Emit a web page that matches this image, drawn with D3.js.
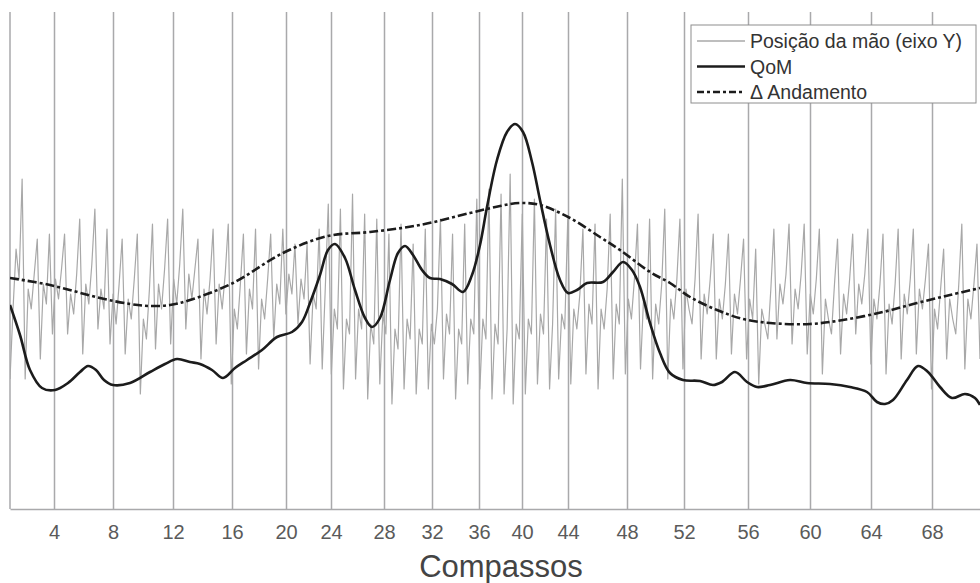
<!DOCTYPE html>
<html>
<head>
<meta charset="utf-8">
<script src="https://cdn.jsdelivr.net/npm/d3@7"></script>
<style>
  body { margin: 0; background: #ffffff; }
  svg { display: block; font-family: "Liberation Sans", Arial, sans-serif; }
</style>
</head>
<body>
<svg id="chart" width="980" height="583"></svg>
<script>

// bar lines (compassos) : time in seconds where each labelled bar starts
var barTimes  = [8.8, 20.6, 32.6, 44.4, 55.2, 64.2, 74.8, 84.4, 93.8, 102.4, 111.6, 123.4, 134.8, 147.6, 160, 172.2, 184.4];
var barLabels = [4, 8, 12, 16, 20, 24, 28, 32, 36, 40, 44, 48, 52, 56, 60, 64, 68];

// hand position (Y axis), sampled every handDt seconds from t = 0
var handDt = 0.60625;
var handPos = [
	26, 40, 52, 46,
	66, 26, 44, 40, 47,   54, 30, 45, 41,   55, 35, 46, 42, 48,   55, 35, 43, 39, 47,
	58, 31, 45, 41, 49,   60, 36, 44, 40,   56, 33, 43, 37, 45,   54, 31, 42, 38, 46,
	55, 23, 38, 34, 44,   57, 32, 45, 40, 48,   58, 33, 46, 41, 49,   60, 36, 47, 42, 48,
	54, 30, 44, 39, 46,   56, 33, 45, 40, 47,   57, 25, 40, 36, 45,   55, 31, 44, 40,
	56, 28, 42, 38, 46,   55, 34, 45, 41,   56, 39, 47, 43,   53, 37, 46, 42,
	53, 29, 43, 40,   56, 28, 44,
	61, 27, 40, 36,   60, 24, 38, 35,   63, 26, 40, 36,   59, 22, 37, 33,
	58, 25, 39, 35,   55, 21, 36, 32,   57, 24, 38, 34,   53, 23, 36, 33,
	56, 24, 37, 33, 40,   58, 26, 39, 35,   55, 22, 36, 33,   57, 25, 38, 35,
	62, 24, 38, 34,   64, 22, 37, 33,   63, 23, 36,   67, 21, 37, 34,
	59, 23, 38, 35,   62, 25, 39, 35,   58, 24, 37,   60, 26, 39, 36,
	58, 25, 40, 36, 43,   56, 27, 41, 37,   57, 24, 40, 36, 44,   59, 26, 41, 37,
	66, 27, 42, 38, 46,   57, 28, 42, 38,   58, 26, 41, 37, 45,
	60, 26, 42, 38, 46,   58, 28, 44, 40, 37, 46,   59, 30, 43, 39, 46,   55, 30, 42, 38, 45,
	55, 31, 43, 39, 46,   54, 30, 42, 38,   52, 25, 40, 37, 34, 44,   56, 34, 45, 41, 47,
	57, 33, 44, 40, 47,   57, 31, 43, 39, 46,   56, 27, 42, 38, 35, 45,   54, 31, 43, 39, 46,
	55, 35, 45, 41, 47,   56, 29, 42, 38, 45,   55, 27, 41, 37, 45,   56, 30, 43, 39, 46,
	56, 31, 44, 40, 46,   53, 24, 40, 36, 44,   52, 30, 42, 38, 35, 45,   57, 28, 42, 38, 45,
	53, 30
];

// QoM (quantity of motion)
var qomT = [0, 2, 4, 6.4, 9, 11.6, 14, 15.6, 17.2, 18.8, 20.6, 24, 28, 31, 33.4, 36, 38, 40.4, 42.6, 45,
	47.4, 50.4, 53.4, 56.4, 58.4, 60, 62, 63.6, 65, 67, 69, 71, 72.4, 74, 76, 77.6, 79, 80.6, 82.4, 84,
	86, 88.4, 90.6, 92.4, 94, 95.4, 97.4, 99.4, 101, 102.6, 104.4, 106, 108, 110, 111.6, 113.4, 115.4, 118.6, 120.6, 122.6,
	124.4, 126, 128, 130, 132, 134.6, 138, 140.6, 142.4, 145, 147.4, 149.4, 152, 156, 159.4, 164, 168, 171.4, 173.4, 175,
	176.6, 179.4, 181.6, 183.6, 186, 188.4, 191, 193, 194];
var qomV = [40.8, 34.8, 27.8, 24.2, 23.8, 25.2, 27.4, 28.6, 27.8, 25.8, 24.8, 25.2, 27.4, 29, 30, 29.4, 29, 27.8, 26.2, 28.2,
	29.8, 31.8, 34.4, 35.4, 37.4, 41.2, 46.8, 51.8, 53, 50.2, 43.8, 38.2, 36.4, 38.2, 45.8, 51.2, 52.6, 50.8, 47.8, 46.2,
	46, 45, 43.4, 46.8, 52.8, 60.4, 69.8, 75.4, 77, 75.4, 69.4, 61.8, 52.8, 45.8, 43.2, 43.8, 45.2, 45.4, 47.4, 49.4,
	47.8, 44.4, 37.2, 31.2, 27.2, 25.8, 25.6, 24.8, 25.4, 27.4, 25.4, 24.4, 24.8, 25.8, 25.2, 25, 24.4, 23.4, 21.4, 21,
	21.8, 25.8, 28.6, 27.4, 24.4, 22.2, 23, 22.2, 20.8];

// delta tempo (andamento)
var tempoT = [0, 8, 18, 24, 28, 32, 36, 44.6, 54.6, 63.6, 72, 82, 92, 98, 102, 106, 112, 118, 122, 128,
	132, 136, 141.4, 146.6, 152, 160, 166.6, 174.6, 181.4, 188, 194];
var tempoV = [46.2, 44.8, 42.2, 41, 40.6, 40.8, 41.8, 45.2, 51.2, 54.6, 55.4, 56.8, 59.2, 60.6, 61.2, 60.8, 58.2, 54.4, 51.8, 47.4,
	45.2, 42.4, 39.8, 38, 37.2, 37, 37.8, 39.4, 41.2, 42.8, 44.2];

var legendLabels = ["Posição da mão (eixo Y)", "QoM", "\u0394 Andamento"];

var g_nW = 980, g_nH = 583;
var g_margin = { left: 10, right: 0, top: 12, bottom: 74 };
var g_colorGrid = "#a9a9ab";
var g_colorHand = "#a8a8a8";
var g_colorInk = "#1c1c1c";

var svg = d3.select("#chart");

var x = d3.scaleLinear().domain([0, 194]).range([g_margin.left, g_nW - g_margin.right]);
var y = d3.scaleLinear().domain([0, 99.4]).range([g_nH - g_margin.bottom, g_margin.top]);

var nPlotH = y(0) - y(99.4);

svg.append("defs").append("clipPath").attr("id", "plotclip")
	.append("rect")
		.attr("x", x(0))
		.attr("y", y(99.4))
		.attr("width", x(194) - x(0))
		.attr("height", nPlotH);

// x axis : bar lines run up the whole plot
var axis = svg.append("g")
	.attr("transform", "translate(0," + y(0) + ")")
	.call(d3.axisBottom(x)
		.tickValues(barTimes)
		.tickFormat(function(d, i) { return barLabels[i]; })
		.tickSizeInner(-nPlotH)
		.tickSizeOuter(0)
		.tickPadding(16));

axis.select(".domain").attr("stroke", g_colorGrid).attr("stroke-width", 1.5);
axis.selectAll(".tick line").attr("stroke", g_colorGrid).attr("stroke-width", 1.5);
axis.selectAll(".tick text")
	.attr("fill", "#5a5a5a")
	.attr("font-size", "20px")
	.attr("font-family", "Liberation Sans, Arial, sans-serif");

// left border
svg.append("line")
	.attr("x1", x(0)).attr("x2", x(0))
	.attr("y1", y(99.4)).attr("y2", y(0))
	.attr("stroke", g_colorGrid)
	.attr("stroke-width", 1.5);

svg.append("text")
	.attr("x", (x(0) + x(194)) / 2 + 6)
	.attr("y", 577)
	.attr("text-anchor", "middle")
	.attr("font-size", "31px")
	.attr("fill", "#444444")
	.text("Compassos");

var plot = svg.append("g").attr("clip-path", "url(#plotclip)");

var lineHand = d3.line()
	.x(function(d, i) { return x(i * handDt); })
	.y(function(d) { return y(d); });

plot.append("path")
	.datum(handPos)
	.attr("d", lineHand)
	.attr("fill", "none")
	.attr("stroke", g_colorHand)
	.attr("stroke-width", 1.2)
	.attr("stroke-linejoin", "round");

var lineSmooth = d3.line()
	.x(function(d) { return x(d[0]); })
	.y(function(d) { return y(d[1]); })
	.curve(d3.curveCatmullRom.alpha(0.5));

plot.append("path")
	.datum(d3.zip(tempoT, tempoV))
	.attr("d", lineSmooth)
	.attr("fill", "none")
	.attr("stroke", g_colorInk)
	.attr("stroke-width", 2.6)
	.attr("stroke-dasharray", "9,3,3,3");

plot.append("path")
	.datum(d3.zip(qomT, qomV))
	.attr("d", lineSmooth)
	.attr("fill", "none")
	.attr("stroke", g_colorInk)
	.attr("stroke-width", 2.6);

// legend
var legend = svg.append("g").attr("transform", "translate(691,25)");

legend.append("rect")
	.attr("width", 285)
	.attr("height", 78)
	.attr("fill", "#ffffff")
	.attr("stroke", "#8e8e8e")
	.attr("stroke-width", 1);

var legendStyles = [
	{ stroke: g_colorHand, width: 1.3, dash: null },
	{ stroke: g_colorInk, width: 2.6, dash: null },
	{ stroke: g_colorInk, width: 2.6, dash: "7,3,3,3" }
];

legendLabels.forEach(function(label, i) {
	var nY = 16 + i * 25.5;
	legend.append("line")
		.attr("x1", 6).attr("x2", 54)
		.attr("y1", nY).attr("y2", nY)
		.attr("stroke", legendStyles[i].stroke)
		.attr("stroke-width", legendStyles[i].width)
		.attr("stroke-dasharray", legendStyles[i].dash);
	legend.append("text")
		.attr("x", 59)
		.attr("y", nY)
		.attr("dy", "0.36em")
		.attr("font-size", "19.5px")
		.attr("fill", "#333333")
		.text(label);
});

</script>
</body>
</html>
